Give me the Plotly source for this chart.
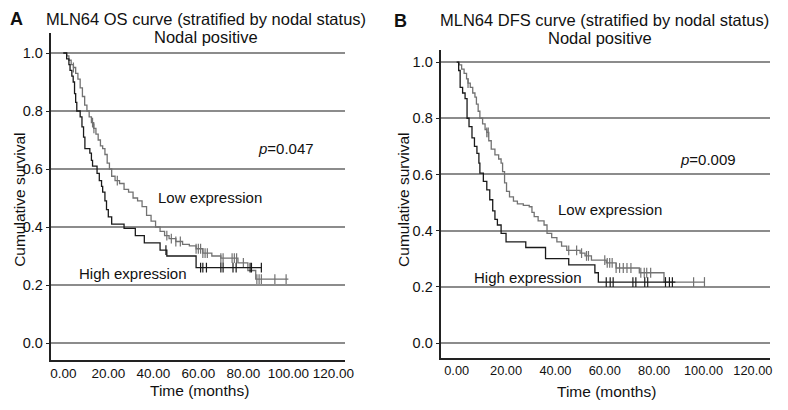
import plotly.graph_objects as go

# ---------------- data ----------------
x_ticks = [0, 20, 40, 60, 80, 100, 120]
y_ticks = [0.0, 0.2, 0.4, 0.6, 0.8, 1.0]

# Panel A: OS, nodal positive
os_low_t = [0, 1.5, 2.5, 3.5, 4.5, 5.5, 6.5, 7.5, 8.5, 9.5, 10.5, 11.5, 12.5, 13.5, 14.5, 15.5, 16.5, 17.5,
            18.5, 19.5, 20.5, 21.5, 23, 25, 27, 29, 31, 33, 35, 37, 39, 41, 43, 45, 47, 50, 53, 56, 59, 62,
            66, 70, 77.6, 82, 85.5, 100]
os_low_s = [1.0, 0.99, 0.975, 0.96, 0.95, 0.93, 0.91, 0.88, 0.85, 0.82, 0.80, 0.78, 0.76, 0.74, 0.72, 0.70,
            0.68, 0.67, 0.65, 0.62, 0.60, 0.575, 0.56, 0.55, 0.53, 0.52, 0.50, 0.49, 0.47, 0.44, 0.42, 0.40,
            0.385, 0.37, 0.36, 0.35, 0.34, 0.335, 0.325, 0.31, 0.30, 0.293, 0.276, 0.25, 0.22, 0.22]
os_low_cens = [4.5, 13, 13.6, 24, 46, 48, 50, 52, 59, 60, 61, 62, 63, 64, 70, 71, 75, 76, 77, 80, 86, 87, 88, 94, 99]

os_high_t = [0, 1.5, 2.5, 3, 3.8, 4.4, 5, 5.5, 6, 7.5, 8.3, 9, 9.6, 11.8, 12.5, 13, 15, 16, 17, 17.5, 18.5,
             19.2, 20, 21.5, 27, 32, 36, 43, 46, 59, 88]
os_high_s = [1.0, 0.98, 0.96, 0.94, 0.92, 0.90, 0.86, 0.83, 0.80, 0.78, 0.745, 0.71, 0.67, 0.655, 0.63, 0.61,
             0.585, 0.56, 0.54, 0.52, 0.49, 0.46, 0.435, 0.41, 0.395, 0.37, 0.345, 0.32, 0.30, 0.26, 0.26]
os_high_cens = [45.6, 61, 62, 63.6, 70, 71, 75.4, 76.8, 83, 83.6, 88]

# Panel B: DFS, nodal positive
dfs_low_t = [0, 1, 2, 3, 4, 4.6, 5.5, 6.5, 7.4, 8, 8.7, 9.4, 10.5, 11.5, 12.2, 13, 14, 15.5, 17, 18, 18.6,
             19.4, 20.2, 21.4, 23, 24.6, 27, 29.4, 30.5, 31.4, 33, 35.4, 36.6, 38.5, 40.6, 42.5, 44.6, 50, 52,
             54.6, 60.6, 64.6, 74, 84, 100.6]
dfs_low_s = [1.0, 0.99, 0.975, 0.96, 0.94, 0.925, 0.91, 0.89, 0.875, 0.85, 0.825, 0.80, 0.78, 0.76, 0.75, 0.72,
             0.69, 0.67, 0.655, 0.64, 0.61, 0.57, 0.54, 0.52, 0.505, 0.495, 0.49, 0.485, 0.465, 0.45, 0.435,
             0.42, 0.39, 0.375, 0.36, 0.345, 0.33, 0.32, 0.31, 0.295, 0.285, 0.267, 0.25, 0.217, 0.217]
dfs_low_cens = [4.6, 12.2, 12.8, 45.4, 48.6, 50.6, 52.6, 53.4, 60, 61, 62, 63, 64.6, 66, 67.5, 69, 70.6,
                74.6, 76, 77, 78.6, 96, 100.4]

dfs_high_t = [0, 0.8, 1.4, 2.4, 3.4, 4.2, 5, 6.2, 7.2, 8.2, 9, 9.4, 10.8, 12.2, 13.4, 14.6, 15.5, 16.5, 18,
              20, 28, 36, 45.4, 56, 57.4, 88.6]
dfs_high_s = [1.0, 0.97, 0.91, 0.89, 0.87, 0.80, 0.77, 0.73, 0.70, 0.675, 0.64, 0.605, 0.575, 0.545, 0.51,
              0.47, 0.44, 0.42, 0.39, 0.36, 0.34, 0.30, 0.278, 0.25, 0.217, 0.217]
dfs_high_cens = [60.6, 62.2, 63.4, 71.4, 72.6, 76.2, 77.4, 84.6, 86.2, 87.4]

LOW_COLOR = "#727272"
HIGH_COLOR = "#1a1a1a"
FONT = "Liberation Sans, Arial, sans-serif"


def step_val(ts, ss, t):
    v = ss[0]
    for ti, si in zip(ts, ss):
        if ti <= t:
            v = si
    return v


fig = go.Figure()


def add_group(ts, ss, cens, color, xa, ya):
    fig.add_trace(go.Scatter(x=ts, y=ss, mode="lines", line=dict(shape="hv", color=color, width=1.3),
                             xaxis=xa, yaxis=ya, showlegend=False, hoverinfo="skip"))
    fig.add_trace(go.Scatter(x=cens, y=[step_val(ts, ss, c) for c in cens], mode="markers",
                             marker=dict(symbol="line-ns", size=7, line=dict(color=color, width=1.2)),
                             xaxis=xa, yaxis=ya, showlegend=False, hoverinfo="skip"))


add_group(os_low_t, os_low_s, os_low_cens, LOW_COLOR, "x", "y")
add_group(os_high_t, os_high_s, os_high_cens, HIGH_COLOR, "x", "y")
add_group(dfs_low_t, dfs_low_s, dfs_low_cens, LOW_COLOR, "x2", "y2")
add_group(dfs_high_t, dfs_high_s, dfs_high_cens, HIGH_COLOR, "x2", "y2")

# page has an 8px body margin: lay out in page pixels, shifted by OFF
OFF = 8
W, H = 788 - OFF, 410 - OFF


def px(x):
    return (x - OFF) / W


def py(y):
    return (H - (y - OFF)) / H


def xdom(a, b):
    return [px(a), px(b)]


def ydom(top, bottom):
    return [py(bottom), py(top)]


xcommon = dict(showgrid=False, zeroline=False, showline=True, linecolor="#222", linewidth=1.5,
               tickvals=x_ticks, ticktext=[f"{v:.2f}" for v in x_ticks], ticks="",
               tickfont=dict(family=FONT, size=13.5, color="#111"), fixedrange=True)
ycommon = dict(showgrid=True, gridcolor="#8c8c8c", gridwidth=1.5, zeroline=False, showline=True,
               linecolor="#222", linewidth=1.5, tickvals=y_ticks, ticktext=[f"{v:.1f}" for v in y_ticks],
               ticks="outside", ticklen=4, tickcolor="#222",
               tickfont=dict(family=FONT, size=14.5, color="#111"), fixedrange=True)

fig.update_layout(
    width=W, height=H, margin=dict(l=0, r=0, t=0, b=0),
    paper_bgcolor="white", plot_bgcolor="white",
    font=dict(family=FONT, color="#111"),
    xaxis=dict(xcommon, domain=xdom(51, 348), range=[-5.26, 125], anchor="y"),
    yaxis=dict(ycommon, domain=ydom(33, 360), range=[-0.0586, 1.069], anchor="x"),
    xaxis2=dict(xcommon, domain=xdom(446, 779), range=[-6.2, 127], anchor="y2",
                tickfont=dict(family=FONT, size=12.8, color="#111")),
    yaxis2=dict(ycommon, domain=ydom(50, 358), range=[-0.0534, 1.043], anchor="x2"),
)


def ann(text, x, y, size=15, bold=False, rot=0, xanchor="center"):
    fig.add_annotation(text=f"<b>{text}</b>" if bold else text, x=px(x), y=py(y),
                       xref="paper", yref="paper", showarrow=False, textangle=rot,
                       xanchor=xanchor, yanchor="middle",
                       font=dict(family=FONT, size=size, color="#111"))


ann("A", 16, 19, size=18, bold=True)
ann("B", 405, 21, size=18, bold=True)
ann("MLN64 OS curve (stratified by nodal status)", 208, 19, size=16.5)
ann("Nodal positive", 208, 37, size=16.5)
ann("MLN64 DFS curve (stratified by nodal status)", 611, 20, size=16.5)
ann("Nodal positive", 607, 38, size=16.5)
ann("Cumulative survival", 18, 200, size=15.5, rot=-90)
ann("Cumulative survival", 407, 200, size=15.5, rot=-90)
ann("Time (months)", 201, 390, size=15.5)
ann("Time (months)", 613, 391, size=15.5)
ann("<i>p</i>=0.047", 258, 148, size=15, xanchor="left")
ann("Low expression", 157, 198, size=15, xanchor="left")
ann("High expression", 190, 273, size=15, xanchor="right")
ann("<i>p</i>=0.009", 686, 159, size=15, xanchor="left")
ann("Low expression", 562, 209, size=15, xanchor="left")
ann("High expression", 590, 277, size=15, xanchor="right")

fig.write_html("out.html")
